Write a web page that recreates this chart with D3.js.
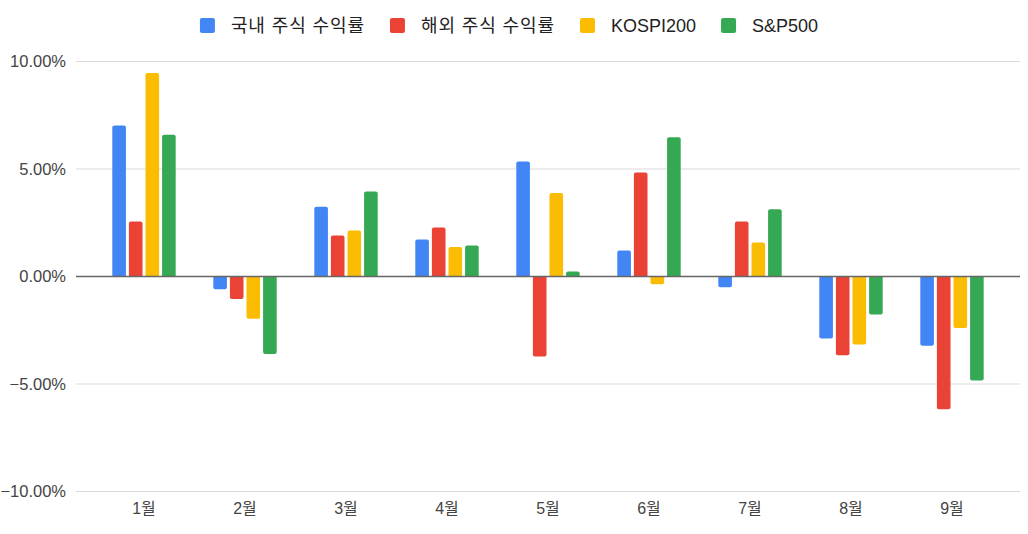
<!DOCTYPE html>
<html><head><meta charset="utf-8">
<script src="https://cdn.jsdelivr.net/npm/d3@7"></script>
<style>
body{margin:0;background:#fff}
svg{display:block;font-family:"Liberation Sans",Arial,"Noto Sans CJK KR",sans-serif}
</style>
</head><body>
<svg id="c" width="1028" height="534"></svg>
<script>
const months = ["1월","2월","3월","4월","5월","6월","7월","8월","9월"];
const seriesNames = ["국내 주식 수익률","해외 주식 수익률","KOSPI200","S&P500"];
const colors = ["#4285F4","#EA4335","#FBBC04","#34A853"];
const domestic = [7.02,-0.59,3.24,1.72,5.35,1.21,-0.50,-2.88,-3.22];
const overseas = [2.56,-1.05,1.91,2.28,-3.72,4.84,2.56,-3.66,-6.17];
const kospi200 = [9.46,-1.97,2.14,1.37,3.88,-0.36,1.58,-3.16,-2.39];
const sp500 = [6.59,-3.60,3.95,1.44,0.23,6.48,3.13,-1.77,-4.84];
const yTicks = [-10,-5,0,5,10];

const seriesValues = [domestic, overseas, kospi200, sp500];

const svg = d3.select("#c");
const plotLeft = 76, plotRight = 1020;
const y = d3.scaleLinear().domain([-10,10]).range([491.5,61.5]);
const x = d3.scaleBand().domain(months).range([93.5,1002.5]).padding(0);
const groupW = 63.4;
const xi = d3.scaleBand().domain(d3.range(seriesNames.length)).range([0,groupW]).paddingInner(0.18).paddingOuter(0);
const groupOff = (x.bandwidth()-groupW)/2;

// gridlines
svg.append("g").selectAll("line").data(yTicks.filter(d=>d!==0)).join("line")
  .attr("x1",plotLeft).attr("x2",plotRight)
  .attr("y1",d=>y(d)).attr("y2",d=>y(d))
  .attr("stroke","#d9d9d9").attr("stroke-width",1);

// y tick labels
const fmt = d=>d3.format(".2f")(d)+"%";
svg.append("g").selectAll("text").data(yTicks).join("text")
  .attr("x",66).attr("y",d=>y(d)).attr("dy","0.35em")
  .attr("text-anchor","end").attr("font-size",16.5).attr("fill","#444")
  .text(fmt);

// x labels
svg.append("g").selectAll("text").data(months).join("text")
  .attr("x",d=>x(d)+x.bandwidth()/2).attr("y",514)
  .attr("text-anchor","middle").attr("font-size",16).attr("fill","#444")
  .text(d=>d);

// bars
const r = 2;
function barPath(x0,w,v){
  const y0 = y(0), y1 = y(v);
  if (v >= 0){
    const rr = Math.min(r,(y0-y1));
    return `M${x0},${y0}V${y1+rr}Q${x0},${y1} ${x0+rr},${y1}H${x0+w-rr}Q${x0+w},${y1} ${x0+w},${y1+rr}V${y0}Z`;
  } else {
    const rr = Math.min(r,(y1-y0));
    return `M${x0},${y0}V${y1-rr}Q${x0},${y1} ${x0+rr},${y1}H${x0+w-rr}Q${x0+w},${y1} ${x0+w},${y1-rr}V${y0}Z`;
  }
}
const data = [];
months.forEach((m,i)=>seriesValues.forEach((s,j)=>data.push({m,j,v:s[i]})));
svg.append("g").selectAll("path").data(data).join("path")
  .attr("d",d=>barPath(x(d.m)+groupOff+xi(d.j), xi.bandwidth(), d.v))
  .attr("fill",d=>colors[d.j]);

// zero line
svg.append("line").attr("x1",plotLeft).attr("x2",plotRight)
  .attr("y1",y(0)).attr("y2",y(0)).attr("stroke","#666").attr("stroke-width",1.6);

// legend
const lg = svg.append("g");
const items = lg.selectAll("g").data(seriesNames).join("g");
items.append("rect").attr("width",15).attr("height",15).attr("y",18).attr("rx",2)
  .attr("fill",(d,i)=>colors[i]);
items.append("text").attr("x",31).attr("y",32).attr("font-size",18).attr("fill","#222")
  .attr("letter-spacing",d=>/[가-힣]/.test(d)?"0.9px":null)
  .text(d=>d);
let cx = 0; const pos = [];
items.each(function(){
  const w = d3.select(this).select("text").node().getComputedTextLength();
  pos.push(cx); cx += 31 + w + 25;
});
const total = cx - 25;
const startX = 509 - total/2;
items.attr("transform",(d,i)=>`translate(${startX+pos[i]},0)`);
</script>
</body></html>
